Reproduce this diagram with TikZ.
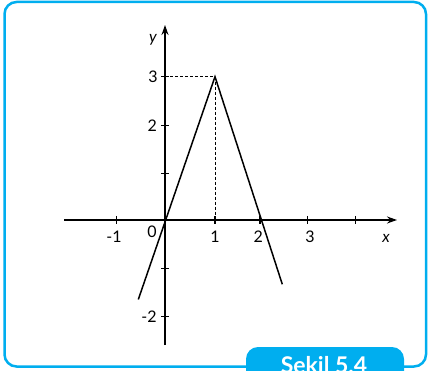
\documentclass[tikz,border=0pt]{standalone}
\usepackage{fontspec}
\setmainfont{Lato}
\usetikzlibrary{arrows.meta}
\definecolor{frameblue}{RGB}{0,174,239}
\tikzset{
  axis/.style={line width=1.5pt, -{Stealth[length=10pt,width=7pt]}},
  graphline/.style={line width=1.5pt},
  guide/.style={line width=0.8pt, dash pattern=on 3pt off 2pt},
  tick/.style={line width=1.3pt},
  lbl/.style={inner sep=0pt, font=\fontsize{16}{18}\selectfont},
  ital/.style={inner sep=0pt, font=\fontsize{16}{18}\selectfont\itshape},
}
\begin{document}
\begin{tikzpicture}[x=1pt,y=-1pt]
\useasboundingbox (0,0) rectangle (428,371);
\clip (0,0) rectangle (428,371);
% frame
\draw[frameblue, line width=2.5pt, rounded corners=12pt] (4.5,2) rectangle (426,366.5);
\fill[frameblue, rounded corners=12pt] (246,347) rectangle (404,395);
\node[inner sep=0pt, anchor=base, text=white, font=\fontsize{23}{25}\selectfont\bfseries] (cap) at (324,373) {Şekil 5.4};
% axes
\coordinate (O) at (165,220);
\coordinate (xs) at (64,220);
\coordinate (xe) at (397,220);
\coordinate (ys) at (165,345);
\coordinate (ye) at (165,25);
\draw[axis] (xs) -- (xe);
\draw[axis] (ys) -- (ye);
% ticks
\foreach \xx in {116.7,215,260,307.5,355.7}
  \draw[tick] (\xx,216) -- (\xx,224);
\foreach \yy in {76.7,125.7,173.3,268.3,316.7}
  \draw[tick] (161,\yy) -- (169,\yy);
% guides
\coordinate (P) at (215,76.7);
\coordinate (Py) at (165,76.7);
\coordinate (Px) at (215,220);
\draw[guide] (Py) -- (P);
\draw[guide] (P) -- (Px);
% graph
\coordinate (A) at (138.3,299.5);
\coordinate (B) at (282.3,284.3);
\draw[graphline, line join=miter] (A) -- (P) -- (B);
% labels
\node[ital] (ly) at (153,40) {y};
\node[ital] (lx) at (386,238) {x};
\node[lbl] (l3) at (153,77) {3};
\node[lbl] (l2) at (152.3,126) {2};
\node[lbl] (lm2) at (149,317) {-2};
\node[lbl] (lm1) at (114,237) {-1};
\node[lbl] (l0) at (152,232) {0};
\node[lbl] (lx1) at (215,237) {1};
\node[lbl] (lx2) at (258.3,237) {2};
\node[lbl] (lx3) at (310,237) {3};
\end{tikzpicture}
\end{document}
